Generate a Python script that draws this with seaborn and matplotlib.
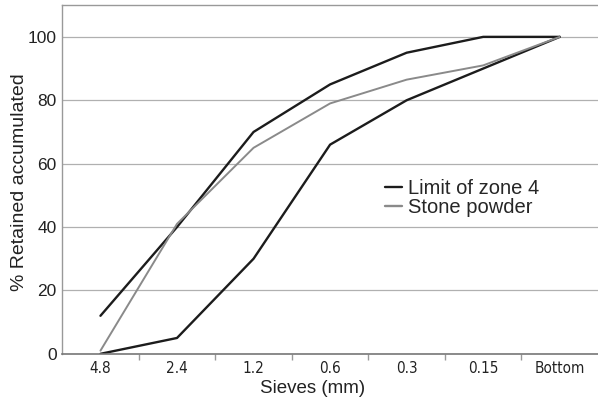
import matplotlib
matplotlib.use("Agg")
import matplotlib.pyplot as plt
from matplotlib import font_manager
import seaborn as sns
from matplotlib.lines import Line2D

sieves = ["4.8", "2.4", "1.2", "0.6", "0.3", "0.15", "Bottom"]
upper_limit = [12, 40, 70, 85, 95, 100, 100]
lower_limit = [0, 5, 30, 66, 80, 90, 100]
stone_powder = [1, 41, 65, 79, 86.5, 91, 100]
yticks = [0, 20, 40, 60, 80, 100]

sns.set_theme(style="white")
plt.rcParams["font.family"] = ["Liberation Sans", "DejaVu Sans"]

# pick a narrow font for the x tick labels if one is installed
narrow_kw = {"family": ["Liberation Sans", "DejaVu Sans"]}
names = {f.name for f in font_manager.fontManager.ttflist}
if "Liberation Sans Narrow" in names:
    narrow_kw = {"family": ["Liberation Sans Narrow", "Liberation Sans"]}
else:
    for f in font_manager.fontManager.ttflist:
        if f.name == "DejaVu Sans" and ("ondensed" in str(f.stretch).lower() or "Condensed" in f.fname):
            narrow_kw = {"family": ["DejaVu Sans"], "fontstretch": "condensed"}
            break

fig = plt.figure(figsize=(5.98, 3.98), dpi=100)
ax = fig.add_axes([0.104, 0.111, 0.896, 0.876])

pos = list(range(len(sieves)))
black = "#1c1c1c"
grey = "#8a8a8a"
sns.lineplot(x=pos, y=upper_limit, ax=ax, color=black, lw=1.7, sort=False)
sns.lineplot(x=pos, y=lower_limit, ax=ax, color=black, lw=1.7, sort=False)
sns.lineplot(x=pos, y=stone_powder, ax=ax, color=grey, lw=1.4, sort=False)

ax.set_xlim(-0.5, len(sieves) - 0.5)
ax.set_ylim(0, 110)
ax.set_yticks(yticks)
ax.set_yticklabels([str(v) for v in yticks], fontsize=12.5, color="#222222")
ax.yaxis.grid(True, color="#b0b0b0", lw=0.9)
ax.set_axisbelow(True)

ax.set_xticks(pos)
ax.set_xticklabels(sieves, fontsize=11, color="#222222", **narrow_kw)
ax.set_xticks([p + 0.5 for p in pos[:-1]], minor=True)
ax.tick_params(axis="x", which="major", length=0, pad=5)
ax.tick_params(axis="x", which="minor", length=4, color="#999999", direction="out", bottom=True)
ax.tick_params(axis="y", length=0, pad=4)

for side in ["left", "top", "right"]:
    ax.spines[side].set_color("#999999")
    ax.spines[side].set_linewidth(1.0)
ax.spines["right"].set_visible(False)
ax.spines["bottom"].set_color("#777777")
ax.spines["bottom"].set_linewidth(1.2)

ax.set_xlabel("Sieves (mm)", fontsize=13.5, color="#222222")
ax.xaxis.set_label_coords((312 - 62) / 536, -0.075)
ax.set_ylabel("% Retained accumulated", fontsize=14, color="#222222")
ax.yaxis.set_label_coords((28 - 62) / 536, (354 - 182) / 349)

handles = [Line2D([], [], color=black, lw=1.7), Line2D([], [], color=grey, lw=1.7)]
ax.legend(handles, ["Limit of zone 4", "Stone powder"], frameon=False,
          loc="center left", bbox_to_anchor=(385 / 598, 1 - 198 / 398), bbox_transform=fig.transFigure,
          borderpad=0, borderaxespad=0, handlelength=0.85, handletextpad=0.3,
          labelspacing=0.0, fontsize=14.5)

fig.savefig("out.png", dpi=100)
